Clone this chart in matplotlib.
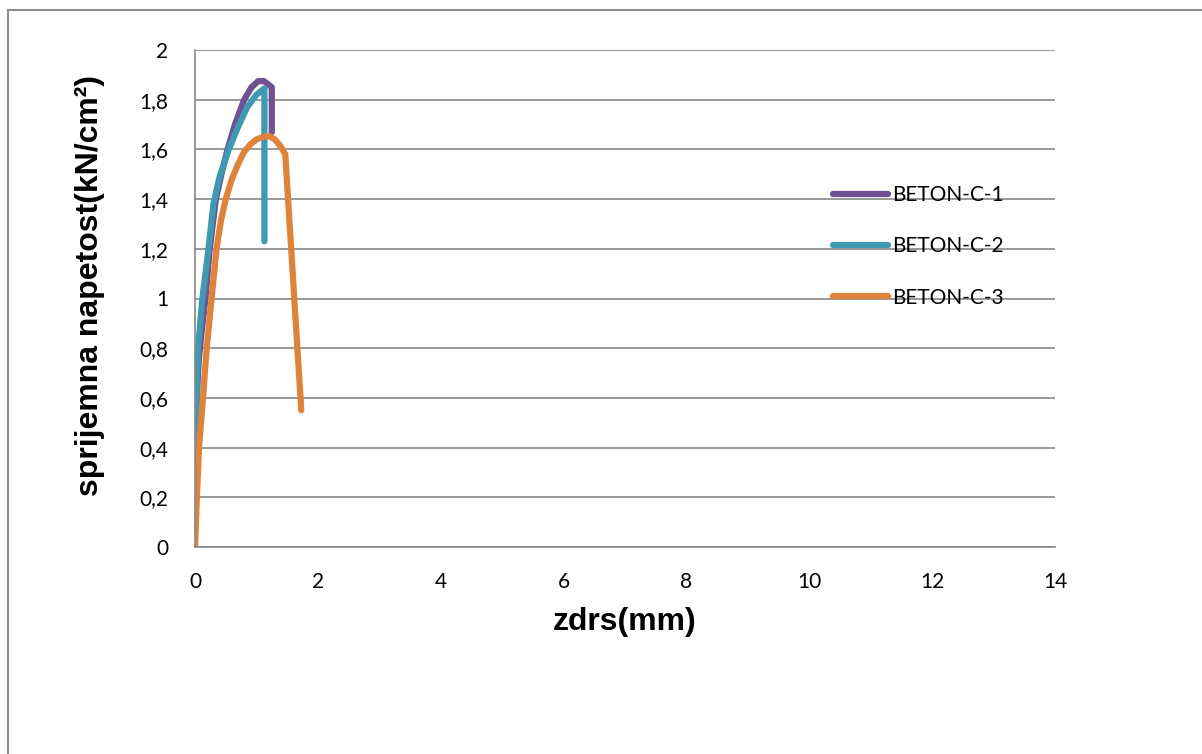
import matplotlib
matplotlib.use("Agg")
import matplotlib.pyplot as plt
from matplotlib.patches import Rectangle

# BETON-C-1 (slip mm, bond stress kN/cm2)
c1_x = [0.0, 0.01, 0.03, 0.06, 0.1, 0.17, 0.24, 0.34, 0.43, 0.53, 0.65, 0.8, 0.92, 1.03, 1.12, 1.2, 1.25, 1.25]
c1_y = [0.22, 0.4, 0.6, 0.75, 0.85, 1.0, 1.2, 1.4, 1.5, 1.6, 1.7, 1.8, 1.85, 1.875, 1.875, 1.86, 1.85, 1.67]

# BETON-C-2
c2_x = [0.0, 0.0, 0.03, 0.05, 0.12, 0.22, 0.3, 0.4, 0.55, 0.7, 0.85, 1.0, 1.1, 1.13, 1.13]
c2_y = [0.0, 0.4, 0.65, 0.8, 1.0, 1.2, 1.38, 1.49, 1.6, 1.69, 1.77, 1.82, 1.84, 1.845, 1.23]

# BETON-C-3
c3_x = [0.0, 0.03, 0.065, 0.13, 0.19, 0.27, 0.35, 0.42, 0.5, 0.6, 0.7, 0.8, 0.9, 1.0, 1.1, 1.2, 1.3, 1.4, 1.47, 1.73]
c3_y = [0.0, 0.2, 0.4, 0.6, 0.8, 1.0, 1.2, 1.31, 1.4, 1.48, 1.54, 1.59, 1.62, 1.64, 1.65, 1.655, 1.64, 1.61, 1.58, 0.55]

labels = ["BETON-C-1", "BETON-C-2", "BETON-C-3"]
colors = ["#6E5191", "#3F99B1", "#E0833A"]

x_ticks = [0, 2, 4, 6, 8, 10, 12, 14]
y_ticks = [0, 0.2, 0.4, 0.6, 0.8, 1.0, 1.2, 1.4, 1.6, 1.8, 2.0]

W, H = 1202, 754
fig = plt.figure(figsize=(W / 100, H / 100), dpi=100)
fig.patches.append(Rectangle((8 / W, -0.1), 1.2, 1 - 10 / H + 0.1, transform=fig.transFigure,
                             fill=False, edgecolor="#8c8c8c", linewidth=1.5))
ax = fig.add_axes([195 / W, 1 - 547 / H, (1055 - 195) / W, (547 - 50) / H])

for xs, ys, lab, col in zip([c1_x, c2_x, c3_x], [c1_y, c2_y, c3_y], labels, colors):
    ax.plot(xs, ys, color=col, linewidth=4.5, label=lab,
            solid_capstyle="round", solid_joinstyle="round")

ax.set_xlim(0, 14)
ax.set_ylim(0, 2)
ax.set_xticks(x_ticks)
ax.set_yticks(y_ticks)
ax.set_xticklabels([str(v) for v in x_ticks], fontsize=15, family="Lato")
ax.set_yticklabels([("%g" % v).replace(".", ",") for v in y_ticks], fontsize=15, family="Lato")
ax.tick_params(axis="y", length=0, pad=19)
ax.tick_params(axis="x", length=0, pad=18)
ax.yaxis.grid(True, color="#888888", linewidth=1.2)
ax.set_axisbelow(True)
for s in ["top", "right"]:
    ax.spines[s].set_visible(False)
for s in ["left", "bottom"]:
    ax.spines[s].set_color("#888888")
    ax.spines[s].set_linewidth(1.2)

fig.text(625 / W, 1 - 622 / H, "zdrs(mm)", fontsize=23, fontweight="bold",
         family="Liberation Sans", ha="center", va="center")
fig.text(90 / W, 1 - 286 / H, "sprijemna napetost(kN/cm²)", fontsize=23, fontweight="bold",
         family="Liberation Sans", ha="center", va="center", rotation=90)

ax.legend(loc="upper left", bbox_to_anchor=((833 - 195) / 860, (547 - 185) / 497),
          frameon=False, borderpad=0, borderaxespad=0,
          prop={"family": "Lato", "size": 15}, handlelength=2.64, handletextpad=0.2,
          labelspacing=1.5)

fig.savefig("out.png", dpi=100)
